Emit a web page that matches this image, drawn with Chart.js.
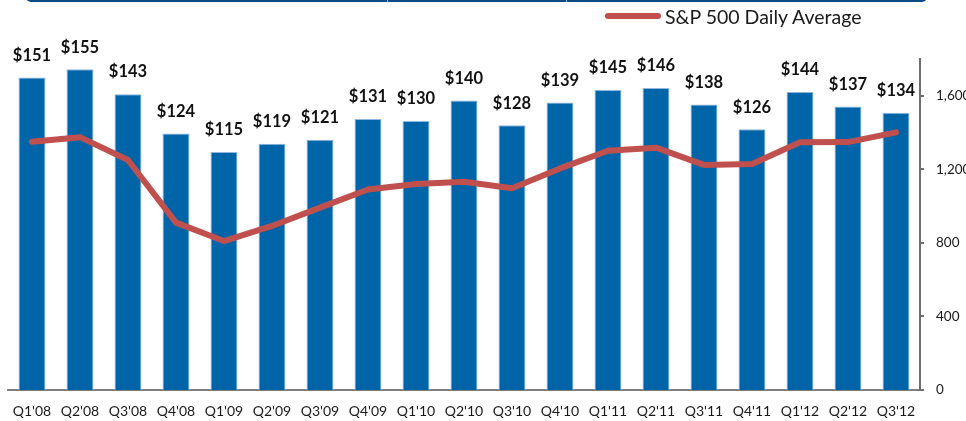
<!DOCTYPE html>
<html>
<head>
<meta charset="utf-8">
<script src="https://cdn.jsdelivr.net/npm/chart.js@4.4.1/dist/chart.umd.min.js"></script>
<style>
  body { margin: 0; background: #fff; overflow: hidden; font-family: Lato, sans-serif; }
  #wrap { position: relative; width: 966px; height: 421px; }
  #banner { position: absolute; left: 26px; top: -20px; width: 901px; height: 22px;
            background: #0b4a82; border-radius: 0 0 5px 5px; }
  .divider { position: absolute; top: 0; width: 1px; height: 22px; background: #9fb6cf; }
  #legend { position: absolute; left: 605px; top: 4px; height: 24px; display: flex; align-items: center;
            font-size: 19.5px; color: #1a1a1a; }
  #legend .swatch { width: 56px; height: 6px; border-radius: 3px; background: #c0504d; margin-right: 4px; }
</style>
</head>
<body>
<div id="wrap">
  <div id="banner">
    <div class="divider" style="left:361px"></div>
    <div class="divider" style="left:540px"></div>
  </div>
  <div id="legend"><span class="swatch"></span><span>S&amp;P 500 Daily Average</span></div>
  <canvas id="line_chart" width="966" height="421"></canvas>
</div>
<script>
// quarters
var quarters = ["Q1'08", "Q2'08", "Q3'08", "Q4'08", "Q1'09", "Q2'09", "Q3'09", "Q4'09", "Q1'10", "Q2'10",
                "Q3'10", "Q4'10", "Q1'11", "Q2'11", "Q3'11", "Q4'11", "Q1'12", "Q2'12", "Q3'12"];
// bar values ($)
var barValues = [151, 155, 143, 124, 115, 119, 121, 131, 130, 140,
                 128, 139, 145, 146, 138, 126, 144, 137, 134];
// S&P 500 daily average
var spAverage = [1350, 1375, 1251, 910, 810, 892, 992, 1090, 1120, 1133,
                 1097, 1205, 1301, 1318, 1224, 1229, 1347, 1348, 1401];
var rightTicks = [0, 400, 800, 1200, 1600];

var barLabels = {
    id: 'barLabels',
    afterDatasetsDraw: function (chart) {
        var ctx = chart.ctx;
        var meta = chart.getDatasetMeta(1);
        ctx.save();
        ctx.font = 'bold 16.5px Lato, sans-serif';
        ctx.fillStyle = '#111';
        ctx.textAlign = 'center';
        ctx.textBaseline = 'middle';
        meta.data.forEach(function (bar, i) {
            ctx.fillText('$' + barValues[i], bar.x, bar.y - 22);
        });
        ctx.restore();
    }
};

var ctx = document.getElementById('line_chart').getContext('2d');
new Chart(ctx, {
    type: 'bar',
    data: {
        labels: quarters,
        datasets: [{
            type: 'line',
            label: 'S&P 500 Daily Average',
            data: spAverage,
            yAxisID: 'y2',
            borderColor: '#c0504d',
            borderWidth: 6,
            pointRadius: 0,
            tension: 0,
            borderCapStyle: 'round',
            borderJoinStyle: 'round',
            order: 0
        }, {
            label: 'Revenue',
            data: barValues,
            yAxisID: 'y',
            backgroundColor: '#0064a8',
            borderColor: '#8fb7e0',
            borderWidth: 1,
            categoryPercentage: 1,
            barPercentage: 0.5625,
            order: 1
        }]
    },
    options: {
        responsive: false,
        animation: false,
        layout: { padding: { left: 8, top: 59, right: 0, bottom: 0 } },
        plugins: { legend: { display: false }, tooltip: { enabled: false } },
        scales: {
            x: {
                grid: { display: false },
                border: { display: true, color: '#7f7f7f', width: 2 },
                ticks: { font: { family: 'Lato', size: 14 }, color: '#1a1a1a', padding: 5, maxRotation: 0, autoSkip: false },
                afterFit: function (scale) { scale.height = 31; }
            },
            y: {
                display: false,
                min: 0,
                max: 160
            },
            y2: {
                position: 'right',
                min: 0,
                max: 1800,
                ticks: {
                    stepSize: 400,
                    font: { family: 'Lato', size: 13.5 },
                    color: '#1a1a1a',
                    padding: 12,
                    callback: function (v) { return v.toLocaleString('en-US'); }
                },
                afterBuildTicks: function (scale) {
                    scale.ticks = rightTicks.map(function (v) { return { value: v }; });
                },
                grid: { drawOnChartArea: false, drawTicks: true, tickLength: 4, color: '#6d6e71', lineWidth: 2 },
                border: { display: true, color: '#6d6e71', width: 2 },
                afterFit: function (scale) { scale.width = 46; }
            }
        }
    },
    plugins: [barLabels]
});
</script>
</body>
</html>
